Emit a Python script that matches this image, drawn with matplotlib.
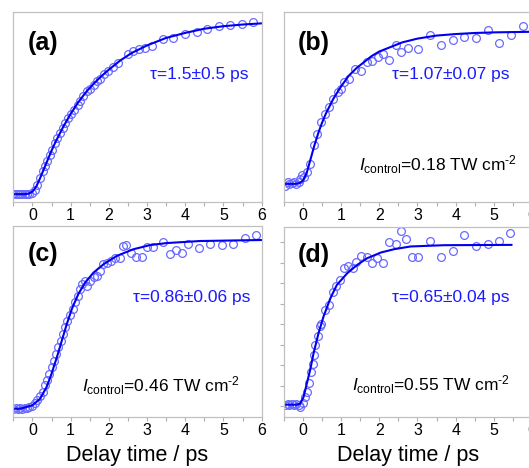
import numpy as np
import matplotlib.pyplot as plt

plt.rcParams['font.family'] = ['Liberation Sans', 'DejaVu Sans']
plt.rcParams['mathtext.fontset'] = 'custom'
plt.rcParams['mathtext.rm'] = 'Liberation Sans'
plt.rcParams['mathtext.it'] = 'Liberation Sans:italic'

# ---- panel (a) ----
ta = [-0.5, -0.44, -0.38, -0.32, -0.26, -0.2, -0.14, -0.08, -0.02,
      0.07, 0.13, 0.20, 0.27, 0.33, 0.39, 0.46, 0.52, 0.59, 0.65, 0.72, 0.79,
      0.86, 0.94, 1.01, 1.09, 1.18, 1.25, 1.33, 1.44, 1.51, 1.60, 1.68, 1.77,
      1.87, 1.99, 2.12, 2.25, 2.49, 2.64, 2.80, 2.95, 3.12, 3.41, 3.69, 3.99,
      4.30, 4.58, 4.89, 5.17, 5.48, 5.78]
ya = [0.0, 0.002, -0.002, 0.0, 0.003, 0.0, -0.002, 0.002, 0.005,
      0.026, 0.056, 0.096, 0.136, 0.166, 0.20, 0.236, 0.266, 0.306, 0.336, 0.366, 0.396,
      0.426, 0.456, 0.48, 0.506, 0.536, 0.556, 0.586, 0.616, 0.632, 0.656, 0.676, 0.692,
      0.716, 0.736, 0.76, 0.786, 0.836, 0.856, 0.866, 0.876, 0.886, 0.93, 0.936, 0.956,
      0.972, 0.99, 1.004, 1.012, 1.016, 1.032]
fta = [-0.5, -0.2, -0.1, 0.0, 0.1, 0.2, 0.3, 0.4, 0.5, 0.6, 0.8, 1.0, 1.2, 1.4, 1.6,
       1.8, 2.0, 2.3, 2.6, 3.0, 3.5, 4.0, 4.5, 5.0, 5.5, 6.0]
fya = [0.0, 0.0, 0.003, 0.015, 0.045, 0.095, 0.15, 0.205, 0.26, 0.31, 0.40, 0.48, 0.55,
       0.61, 0.66, 0.705, 0.745, 0.80, 0.845, 0.89, 0.935, 0.965, 0.99, 1.005, 1.015, 1.022]

# ---- panel (b) ----
tb = [-0.46, -0.40, -0.35, -0.29, -0.23, -0.18, -0.11, -0.07, -0.03, 0.04, 0.11, 0.19,
      0.28, 0.37, 0.48, 0.57, 0.68, 0.79, 0.91, 1.01, 1.07, 1.20, 1.36, 1.53, 1.67, 1.82,
      1.96, 2.11, 2.25, 2.43, 2.56, 2.74, 3.02, 3.32, 3.61, 3.92, 4.23, 4.54, 4.84, 5.13,
      5.44, 5.75]
yb = [-0.011, 0.011, -0.004, 0.004, 0.011, 0.0, 0.011, 0.033, 0.055, 0.044, 0.077, 0.132,
      0.253, 0.33, 0.407, 0.462, 0.505, 0.56, 0.604, 0.626, 0.67, 0.692, 0.758, 0.743,
      0.802, 0.807, 0.835, 0.853, 0.813, 0.916, 0.868, 0.895, 0.89, 0.978, 0.916, 0.945,
      0.967, 0.956, 1.011, 0.927, 0.978, 1.037]
ftb = [-0.5, -0.2, -0.1, 0.0, 0.1, 0.2, 0.3, 0.4, 0.5, 0.6, 0.8, 1.0, 1.2, 1.4, 1.6, 1.8,
       2.0, 2.3, 2.6, 3.0, 3.5, 4.0, 4.5, 5.0, 6.0]
fyb = [0.0, 0.0, 0.004, 0.02, 0.07, 0.16, 0.25, 0.33, 0.40, 0.46, 0.56, 0.64, 0.71, 0.76,
       0.80, 0.84, 0.87, 0.90, 0.93, 0.955, 0.975, 0.985, 0.992, 0.996, 1.0]

# ---- panel (c) ----
tc = [-0.5, -0.44, -0.38, -0.32, -0.26, -0.2, -0.14, -0.08, -0.02,
      0.068, 0.13, 0.20, 0.27, 0.33, 0.39, 0.44, 0.50, 0.57, 0.62, 0.68, 0.74, 0.79, 0.85,
      0.91, 0.98, 1.05, 1.12, 1.18, 1.25, 1.31, 1.38, 1.44, 1.51, 1.60, 1.68, 1.77, 1.86,
      1.94, 2.05, 2.16, 2.28, 2.38, 2.45, 2.57, 2.71, 2.86, 2.99, 3.15, 3.43, 3.60, 3.76,
      3.91, 4.06, 4.36, 4.65, 4.95, 5.26, 5.55, 5.85]
yc = [0.0, 0.003, -0.002, 0.002, 0.0, 0.004, 0.006, 0.01, 0.015,
      0.033, 0.049, 0.075, 0.102, 0.138, 0.171, 0.207, 0.246, 0.285, 0.325, 0.364, 0.404,
      0.443, 0.482, 0.522, 0.555, 0.591, 0.63, 0.669, 0.709, 0.738, 0.758, 0.728, 0.758,
      0.778, 0.787, 0.817, 0.856, 0.866, 0.876, 0.896, 0.892, 0.965, 0.97, 0.925, 0.90,
      0.902, 0.959, 0.961, 0.99, 0.915, 0.939, 0.925, 0.974, 0.955, 0.974, 0.97, 0.974,
      1.01, 1.03]
ftc = [-0.5, -0.32, 0.0, 0.2, 0.37, 0.50, 0.64, 0.77, 0.90, 1.03, 1.20, 1.38, 1.60, 1.86,
       2.21, 2.64, 3.08, 3.52, 4.39, 6.0]
fyc = [0.0, 0.0, 0.02, 0.059, 0.128, 0.207, 0.305, 0.404, 0.502, 0.59, 0.679, 0.748, 0.807,
       0.856, 0.906, 0.945, 0.97, 0.982, 0.994, 1.0]

# ---- panel (d) ----
td = [-0.46, -0.40, -0.35, -0.29, -0.23, -0.18, -0.11, -0.07, 0.0, 0.06, 0.12, 0.175,
      0.21, 0.26, 0.30, 0.32, 0.39, 0.44, 0.47, 0.59, 0.675, 0.79, 0.88, 0.98, 1.09, 1.18,
      1.32, 1.40, 1.51, 1.67, 1.82, 1.95, 2.11, 2.25, 2.43, 2.56, 2.71, 2.87, 3.02, 3.33,
      3.61, 3.92, 4.21, 4.54, 4.84, 5.13, 5.43]
yd = [0.0, 0.006, 0.0, 0.006, 0.0, 0.006, -0.004, -0.015, 0.01, 0.048, 0.079, 0.138,
      0.205, 0.257, 0.31, 0.372, 0.429, 0.492, 0.504, 0.592, 0.623, 0.707, 0.743, 0.78,
      0.854, 0.868, 0.854, 0.895, 0.931, 0.927, 0.885, 0.916, 0.889, 1.015, 1.006, 1.084,
      1.036, 0.927, 0.923, 1.027, 0.923, 0.962, 1.063, 0.996, 1.006, 1.027, 1.073]
ftd = [-0.5, -0.16, -0.07, 0.02, 0.105, 0.19, 0.28, 0.41, 0.54, 0.72, 0.89, 1.16, 1.42,
       1.68, 2.04, 2.39, 2.82, 3.70, 5.46]
fyd = [0.0, 0.0, 0.006, 0.048, 0.132, 0.215, 0.32, 0.446, 0.55, 0.665, 0.749, 0.822, 0.874,
       0.916, 0.952, 0.973, 0.99, 0.998, 1.0]

labels = ['(a)', '(b)', '(c)', '(d)']
taus = ['τ=1.5±0.5 ps', 'τ=1.07±0.07 ps', 'τ=0.86±0.06 ps', 'τ=0.65±0.04 ps']
intens = [None, '0.18', '0.46', '0.55']

W, H = 529, 468
fig = plt.figure(figsize=(W / 100, H / 100), dpi=100)

def box(l, t, r, b):
    return [l / W, 1 - b / H, (r - l) / W, (b - t) / H]

axes = [fig.add_axes(box(13.3, 12, 261.7, 201.5)),
        fig.add_axes(box(283.7, 12, 532.1, 201.5)),
        fig.add_axes(box(13.3, 226, 261.7, 417)),
        fig.add_axes(box(283.7, 226.5, 532.1, 417))]
ylims = [(-0.044, 1.09), (-0.116, 1.13), (-0.049, 1.083), (-0.077, 1.115)]
data = [(ta, ya, fta, fya), (tb, yb, ftb, fyb), (tc, yc, ftc, fyc), (td, yd, ftd, fyd)]
tau_pos = [(0.945, 0.668), (0.911, 0.671), (0.953, 0.628), (0.911, 0.628)]
int_pos = [None, (0.939, 0.192), (0.913, 0.164), (0.911, 0.167)]

for i, ax in enumerate(axes):
    t, y, ft, fy = data[i]
    ax.plot(t, y, 'o', ms=5.6, mfc='none', mec='#6a6aff', mew=0.9)
    ax.plot(ft, fy, '-', color='#0000ee', lw=1.5)
    ax.set_xlim(-0.5, 6)
    ax.set_ylim(*ylims[i])
    ax.set_xticks(range(0, 7))
    ax.set_xticks(np.arange(-0.5, 6.01, 0.5), minor=True)
    ax.tick_params(axis='x', which='both', direction='out', length=3, width=0.8,
                   color='#b0b0b0', labelsize=11.5, pad=1.5)
    if i == 3:
        ax.set_yticks(np.arange(9) * 0.128 - 0.008)
        ax.tick_params(axis='y', direction='out', length=3, width=0.8,
                       color='#b0b0b0', labelleft=False)
    else:
        ax.set_yticks([])
    for s in ax.spines.values():
        s.set_color('#c0c0c0')
        s.set_linewidth(0.9)
    ax.text(0.12, 0.835 if i < 2 else 0.853, labels[i], transform=ax.transAxes,
            fontsize=18, fontweight='bold', ha='center', va='center')
    ax.text(tau_pos[i][0], tau_pos[i][1], taus[i], transform=ax.transAxes,
            fontsize=12.5, color='#1a1aff', ha='right', va='center')
    if intens[i]:
        ax.text(int_pos[i][0], int_pos[i][1],
                r'$\mathit{I}_{\mathrm{control}}$=' + intens[i] + ' TW cm$^{\u20102}$',
                transform=ax.transAxes, fontsize=12.5, ha='right', va='center')
    if i >= 2:
        ax.set_xlabel('Delay time / ps', fontsize=15.5, labelpad=5)

fig.savefig('out.png', dpi=100)
